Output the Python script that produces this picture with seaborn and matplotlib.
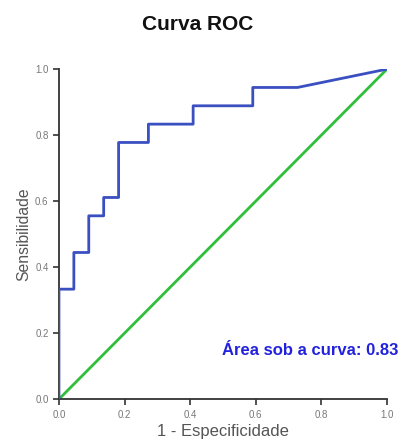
import numpy as np
import pandas as pd
import seaborn as sns
import matplotlib.pyplot as plt

# ROC curve points
fpr = [0.0, 0.0, 1/22, 1/22, 2/22, 2/22, 3/22, 3/22, 4/22, 4/22, 6/22, 6/22,
       9/22, 9/22, 13/22, 13/22, 16/22, 1.0]
tpr = [0.0, 6/18, 6/18, 8/18, 8/18, 10/18, 10/18, 11/18, 11/18, 14/18, 14/18, 15/18,
       15/18, 16/18, 16/18, 17/18, 17/18, 1.0]
ref_line = [0.0, 1.0]
ticks = [0.0, 0.2, 0.4, 0.6, 0.8, 1.0]
auc_label = "Área sob a curva: 0.83"

sns.set_style("ticks")
plt.rcParams['font.family'] = ['Liberation Sans', 'DejaVu Sans']

fig = plt.figure(figsize=(4.01, 4.46), dpi=100)
ax = fig.add_axes([0.147, 0.105, 0.818, 0.74])

roc = pd.DataFrame({'fpr': fpr, 'tpr': tpr})
ax.plot(roc['fpr'], roc['tpr'], color='#3a4fc0', lw=2.0, zorder=3)
sns.lineplot(x=ref_line, y=ref_line, color='#2fbf3a', lw=2.0, ax=ax, zorder=2)

ax.set_xlim(0, 1)
ax.set_ylim(0, 1)
ax.set_xticks(ticks)
ax.set_yticks(ticks)
ax.set_xticklabels([f"{t:.1f}" for t in ticks])
ax.set_yticklabels([f"{t:.1f}" for t in ticks])
ax.tick_params(labelsize=7, colors='#333333', length=4, width=1.2, labelcolor='#777777')
for s in ['left', 'bottom']:
    ax.spines[s].set_linewidth(1.3)
    ax.spines[s].set_color('#333333')
sns.despine(ax=ax)

ax.set_xlabel("1 - Especificidade", fontsize=12, color='#555555', labelpad=3)
ax.set_ylabel("Sensibilidade", fontsize=11.3, color='#555555', labelpad=3)
fig.text(198 / 401, 1 - 24 / 446, "Curva ROC", fontsize=15, fontweight='bold',
         ha='center', va='center', color='#111111')

ax.text(1.034, 0.148, auc_label, transform=ax.transAxes, ha='right', va='center',
        fontsize=12, fontweight='bold', color='#2222dd')

fig.savefig("out.png", dpi=100)
